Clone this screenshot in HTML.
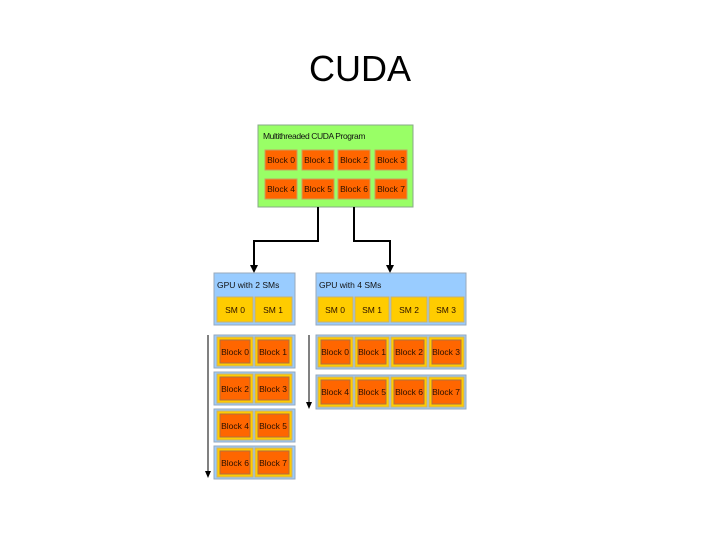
<!DOCTYPE html>
<html><head><meta charset="utf-8"><style>
html,body{margin:0;padding:0;background:#fff;}
svg{display:block;}
text{font-family:"Liberation Sans",sans-serif;}
.t{font-size:8.5px;fill:#111;}
.b{font-size:8.5px;fill:#2a1000;}
</style></head><body>
<svg width="720" height="540" viewBox="0 0 720 540">
<text x="360" y="81" font-size="36" text-anchor="middle" fill="#000">CUDA</text>

<rect x="258" y="125" width="155" height="82" fill="#99ff66" stroke="#88aa88" stroke-width="1"/>
<text class="t" x="263" y="139" letter-spacing="-0.4">Multithreaded CUDA Program</text>
<g fill="#ff6600" stroke="#c8a060" stroke-width="1">
<rect x="265" y="150" width="32" height="20"/><rect x="302" y="150" width="32" height="20"/>
<rect x="338" y="150" width="32" height="20"/><rect x="375" y="150" width="32" height="20"/>
<rect x="265" y="179" width="32" height="20"/><rect x="302" y="179" width="32" height="20"/>
<rect x="338" y="179" width="32" height="20"/><rect x="375" y="179" width="32" height="20"/>
</g>
<g class="b" text-anchor="middle">
<text x="281" y="163">Block 0</text><text x="318" y="163">Block 1</text><text x="354" y="163">Block 2</text><text x="391" y="163">Block 3</text>
<text x="281" y="192">Block 4</text><text x="318" y="192">Block 5</text><text x="354" y="192">Block 6</text><text x="391" y="192">Block 7</text>
</g>

<g stroke="#000" stroke-width="2" fill="none">
<polyline points="318,207 318,241 254,241 254,266"/>
<polyline points="354,207 354,241 390,241 390,266"/>
</g>
<g fill="#000">
<polygon points="250,265 258,265 254,273"/>
<polygon points="386,265 394,265 390,273"/>
</g>

<rect x="214" y="273" width="81" height="52" fill="#99ccff" stroke="#9ab" stroke-width="1"/>
<text class="t" x="217" y="288">GPU with 2 SMs</text>
<g fill="#ffcc00" stroke="#c8b070"><rect x="217" y="297" width="36" height="25"/><rect x="255" y="297" width="37" height="25"/></g>
<g class="b" text-anchor="middle"><text x="235" y="313">SM 0</text><text x="273" y="313">SM 1</text></g>

<rect x="316" y="273" width="150" height="52" fill="#99ccff" stroke="#9ab" stroke-width="1"/>
<text class="t" x="319" y="288">GPU with 4 SMs</text>
<g fill="#ffcc00" stroke="#c8b070"><rect x="318" y="297" width="35" height="25"/><rect x="355" y="297" width="34" height="25"/><rect x="391" y="297" width="36" height="25"/><rect x="429" y="297" width="35" height="25"/></g>
<g class="b" text-anchor="middle"><text x="335" y="313">SM 0</text><text x="372" y="313">SM 1</text><text x="409" y="313">SM 2</text><text x="446" y="313">SM 3</text></g>

<g fill="#99ccff" stroke="#9ab">
<rect x="214" y="335" width="81" height="33"/><rect x="214" y="372" width="81" height="33"/>
<rect x="214" y="409" width="81" height="33"/><rect x="214" y="446" width="81" height="33"/>
<rect x="316" y="335" width="150" height="34"/><rect x="316" y="375" width="150" height="34"/>
</g>
<g fill="#ffcc00" stroke="#c8b070">
<rect x="217" y="337" width="36" height="29"/><rect x="255" y="337" width="37" height="29"/>
<rect x="217" y="374" width="36" height="29"/><rect x="255" y="374" width="37" height="29"/>
<rect x="217" y="411" width="36" height="29"/><rect x="255" y="411" width="37" height="29"/>
<rect x="217" y="448" width="36" height="29"/><rect x="255" y="448" width="37" height="29"/>
<rect x="318" y="337" width="35" height="30"/><rect x="355" y="337" width="34" height="30"/><rect x="391" y="337" width="36" height="30"/><rect x="429" y="337" width="35" height="30"/>
<rect x="318" y="377" width="35" height="30"/><rect x="355" y="377" width="34" height="30"/><rect x="391" y="377" width="36" height="30"/><rect x="429" y="377" width="35" height="30"/>
</g>
<g fill="#ff6600" stroke="#b07040">
<rect x="220" y="340" width="30" height="23"/><rect x="258" y="340" width="31" height="23"/>
<rect x="220" y="377" width="30" height="23"/><rect x="258" y="377" width="31" height="23"/>
<rect x="220" y="414" width="30" height="23"/><rect x="258" y="414" width="31" height="23"/>
<rect x="220" y="451" width="30" height="23"/><rect x="258" y="451" width="31" height="23"/>
<rect x="321" y="340" width="29" height="24"/><rect x="358" y="340" width="28" height="24"/><rect x="394" y="340" width="30" height="24"/><rect x="432" y="340" width="29" height="24"/>
<rect x="321" y="380" width="29" height="24"/><rect x="358" y="380" width="28" height="24"/><rect x="394" y="380" width="30" height="24"/><rect x="432" y="380" width="29" height="24"/>
</g>
<g class="b" text-anchor="middle">
<text x="235" y="355">Block 0</text><text x="273" y="355">Block 1</text>
<text x="235" y="392">Block 2</text><text x="273" y="392">Block 3</text>
<text x="235" y="429">Block 4</text><text x="273" y="429">Block 5</text>
<text x="235" y="466">Block 6</text><text x="273" y="466">Block 7</text>
<text x="335" y="355">Block 0</text><text x="372" y="355">Block 1</text><text x="409" y="355">Block 2</text><text x="446" y="355">Block 3</text>
<text x="335" y="395">Block 4</text><text x="372" y="395">Block 5</text><text x="409" y="395">Block 6</text><text x="446" y="395">Block 7</text>
</g>

<g stroke="#000" stroke-width="1"><line x1="208" y1="335" x2="208" y2="472"/><line x1="309" y1="335" x2="309" y2="403"/></g>
<g fill="#000"><polygon points="205,471 211,471 208,478"/><polygon points="306,402 312,402 309,409"/></g>
</svg>
</body></html>
